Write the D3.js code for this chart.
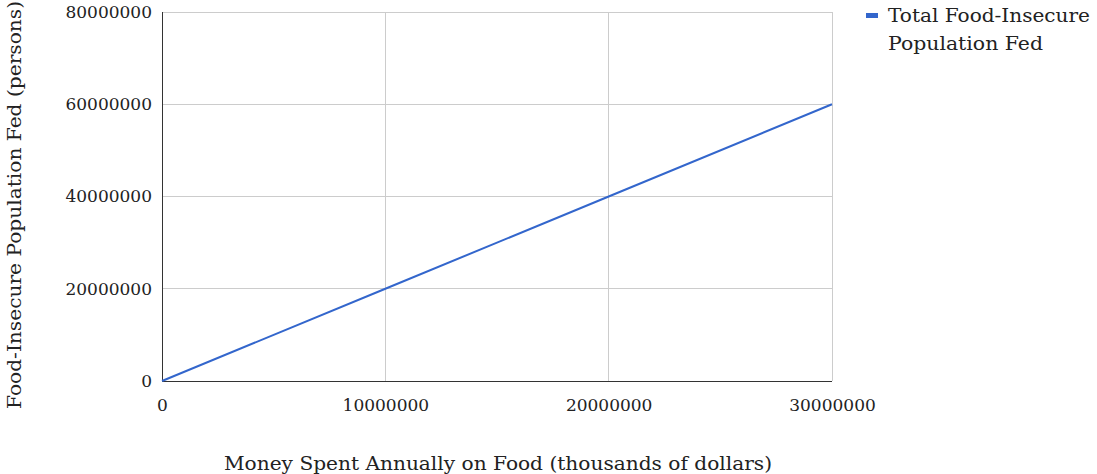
<!DOCTYPE html>
<html>
<head>
<meta charset="utf-8">
<script src="https://cdn.jsdelivr.net/npm/d3@7"></script>
<style>
  html, body { margin: 0; padding: 0; background: #fff; }
  svg { display: block; font-family: "DejaVu Serif", Georgia, "Liberation Serif", serif; }
</style>
</head>
<body>
<svg id="chart" width="1097" height="474"></svg>
<script>
// Money spent (thousands of dollars) and food-insecure people fed
const moneySpent = [0, 10000000, 20000000, 30000000];
const populationFed = [0, 20000000, 40000000, 60000000];
const xTicks = [0, 10000000, 20000000, 30000000];
const yTicks = [0, 20000000, 40000000, 60000000, 80000000];
const seriesName = ["Total Food-Insecure", "Population Fed"];

const svg = d3.select("#chart");
const margin = { left: 162, right: 265, top: 12, bottom: 93 };
const W = 1097, H = 474;
const innerW = W - margin.left - margin.right;
const innerH = H - margin.top - margin.bottom;
const textColor = "#222";

const x = d3.scaleLinear().domain([0, 30000000]).range([margin.left, margin.left + innerW]);
const y = d3.scaleLinear().domain([0, 80000000]).range([margin.top + innerH, margin.top]);

// Gridlines
const grid = svg.append("g");
grid.selectAll("line.h").data(yTicks.slice(1)).join("line")
  .attr("x1", x(0)).attr("x2", x(30000000))
  .attr("y1", d => y(d)).attr("y2", d => y(d))
  .attr("stroke", "#cccccc").attr("stroke-width", 1).attr("shape-rendering", "crispEdges");
grid.selectAll("line.v").data(xTicks.slice(1)).join("line")
  .attr("y1", y(0)).attr("y2", y(80000000))
  .attr("x1", d => x(d)).attr("x2", d => x(d))
  .attr("stroke", "#cccccc").attr("stroke-width", 1).attr("shape-rendering", "crispEdges");

// Axes
const xAxis = d3.axisBottom(x).tickValues(xTicks).tickSize(0).tickPadding(18).tickFormat(d3.format("d"));
const yAxis = d3.axisLeft(y).tickValues(yTicks).tickSize(0).tickPadding(10).tickFormat(d3.format("d"));

const gx = svg.append("g").attr("transform", `translate(0,${y(0)})`).call(xAxis);
const gy = svg.append("g").attr("transform", `translate(${x(0)},0)`).call(yAxis);
[gx, gy].forEach(g => {
  g.select(".domain").remove();
  g.selectAll("text").attr("font-family", "'DejaVu Serif', Georgia, serif")
    .attr("font-size", 17).attr("fill", textColor);
});

// Axis baselines
svg.append("line").attr("x1", x(0)).attr("x2", x(30000000)).attr("y1", y(0)).attr("y2", y(0))
  .attr("stroke", "#333").attr("stroke-width", 1).attr("shape-rendering", "crispEdges");
svg.append("line").attr("x1", x(0)).attr("x2", x(0)).attr("y1", y(0)).attr("y2", y(80000000))
  .attr("stroke", "#333").attr("stroke-width", 1).attr("shape-rendering", "crispEdges");

// Series line
const line = d3.line().x((d, i) => x(moneySpent[i])).y(d => y(d));
svg.append("path").datum(populationFed)
  .attr("d", line).attr("fill", "none").attr("stroke", "#3366cc").attr("stroke-width", 2);

// Axis titles
svg.append("text").attr("x", 498).attr("y", 470).attr("text-anchor", "middle")
  .attr("font-size", 18).attr("fill", textColor)
  .attr("textLength", 548).attr("lengthAdjust", "spacingAndGlyphs")
  .text("Money Spent Annually on Food (thousands of dollars)");
svg.append("text").attr("transform", "translate(21,205) rotate(-90)").attr("text-anchor", "middle")
  .attr("font-size", 18).attr("fill", textColor)
  .attr("textLength", 408).attr("lengthAdjust", "spacingAndGlyphs")
  .text("Food-Insecure Population Fed (persons)");

// Legend
const lg = svg.append("g");
lg.append("rect").attr("x", 866).attr("y", 13).attr("width", 12).attr("height", 5).attr("fill", "#3366cc");
lg.selectAll("text").data(seriesName).join("text")
  .attr("x", 888).attr("y", (d, i) => 22 + i * 28)
  .attr("font-size", 18).attr("fill", textColor)
  .attr("textLength", (d, i) => i === 0 ? 202 : 155).attr("lengthAdjust", "spacingAndGlyphs")
  .text(d => d);
</script>
</body>
</html>
